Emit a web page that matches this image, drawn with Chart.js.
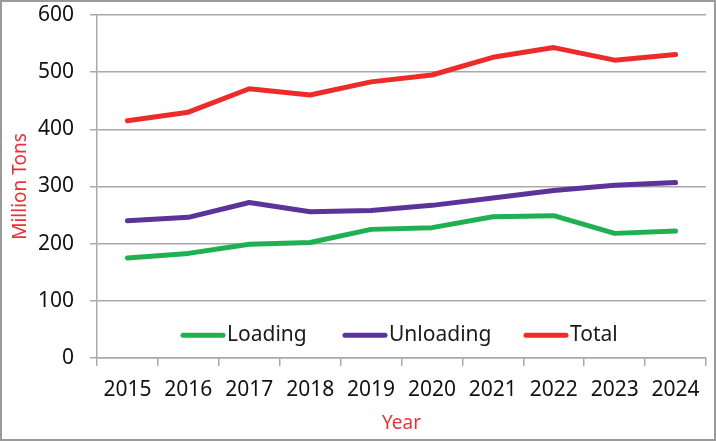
<!DOCTYPE html>
<html lang="en">
<head>
  <meta charset="UTF-8" />
  <title>Loading / Unloading</title>
  <script src="https://cdn.jsdelivr.net/npm/chart.js"></script>
  <style>
    html, body { margin: 0; padding: 0; background: #fff; }
    #wrap { position: relative; width: 716px; height: 441px; }
    #chart { position: absolute; left: 0; top: 0; }
    #frame {
      position: absolute; left: 0; top: 0; width: 716px; height: 441px;
      box-sizing: border-box; border: 2px solid #9a9a9a; pointer-events: none;
    }
  </style>
</head>
<body>
  <div id="wrap">
    <canvas id="chart" width="716" height="441"></canvas>
    <div id="frame"></div>
  </div>

  <script>
    const years = ["2015", "2016", "2017", "2018", "2019", "2020", "2021", "2022", "2023", "2024"];
    const loading = [175, 183, 199, 202, 225, 228, 247, 249, 218, 222];
    const unloading = [240, 246, 272, 256, 258, 267, 280, 293, 302, 307];
    const total = [415, 430, 471, 460, 483, 495, 526, 543, 521, 531];
    const seriesNames = ["Loading", "Unloading", "Total"];
    const seriesColors = ["#1fb052", "#5b3399", "#ee2b2b"];

    const FONT = "'Noto Sans', 'Open Sans', sans-serif";
    const TITLE_RED = "#e8323a";
    const GRID = "#a9a9a9";

    // legend sits inside the plot, drawn by hand
    const legendSpots = [183, 345, 526];
    const insideLegend = {
      id: "insideLegend",
      afterDatasetsDraw(chart) {
        const ctx = chart.ctx;
        const y = chart.scales.y.getPixelForValue(40);
        ctx.save();
        ctx.font = "21px " + FONT;
        ctx.textBaseline = "middle";
        chart.data.datasets.forEach((ds, i) => {
          const x = legendSpots[i];
          ctx.strokeStyle = ds.borderColor;
          ctx.lineWidth = 5;
          ctx.lineCap = "round";
          ctx.beginPath();
          ctx.moveTo(x, y);
          ctx.lineTo(x + 40, y);
          ctx.stroke();
          ctx.fillStyle = "#1a1a1a";
          ctx.fillText(ds.label, x + 44, y);
        });
        ctx.restore();
      }
    };

    const mkSet = (i, data) => ({
      label: seriesNames[i], data,
      borderColor: seriesColors[i],
      backgroundColor: seriesColors[i],
      borderWidth: 5, tension: 0, pointRadius: 0,
      borderCapStyle: "round", borderJoinStyle: "round", fill: false
    });

    new Chart(document.getElementById("chart").getContext("2d"), {
      type: "line",
      data: {
        labels: years,
        datasets: [mkSet(0, loading), mkSet(1, unloading), mkSet(2, total)]
      },
      options: {
        responsive: false,
        animation: false,
        layout: { padding: { top: 15, right: 10, left: 0, bottom: 0 } },
        plugins: { legend: { display: false }, tooltip: { enabled: false } },
        scales: {
          x: {
            offset: true,
            afterFit: s => { s.height = 83; s.paddingLeft = 0; s.paddingRight = 0; },
            grid: { offset: true, drawOnChartArea: false, drawTicks: true, tickLength: 8, color: GRID, lineWidth: 1.5 },
            border: { color: GRID, width: 1.5 },
            ticks: { color: "#111", font: { family: FONT, size: 21 }, padding: 11, maxRotation: 0 },
            title: { display: true, text: "Year", color: TITLE_RED, font: { family: FONT, size: 19 }, padding: { top: 0, bottom: 6 } }
          },
          y: {
            min: 0, max: 600,
            afterFit: s => { s.width = 97; s.paddingTop = 0; s.paddingBottom = 0; },
            grid: { color: GRID, lineWidth: 1.5, tickLength: 7 },
            border: { color: GRID, width: 1.5 },
            ticks: { stepSize: 100, color: "#111", font: { family: FONT, size: 21 }, padding: 16 },
            title: { display: true, text: "Million Tons", color: TITLE_RED, font: { family: FONT, size: 19 }, padding: { top: 9, bottom: 0 } }
          }
        }
      },
      plugins: [insideLegend]
    });
  </script>
</body>
</html>
